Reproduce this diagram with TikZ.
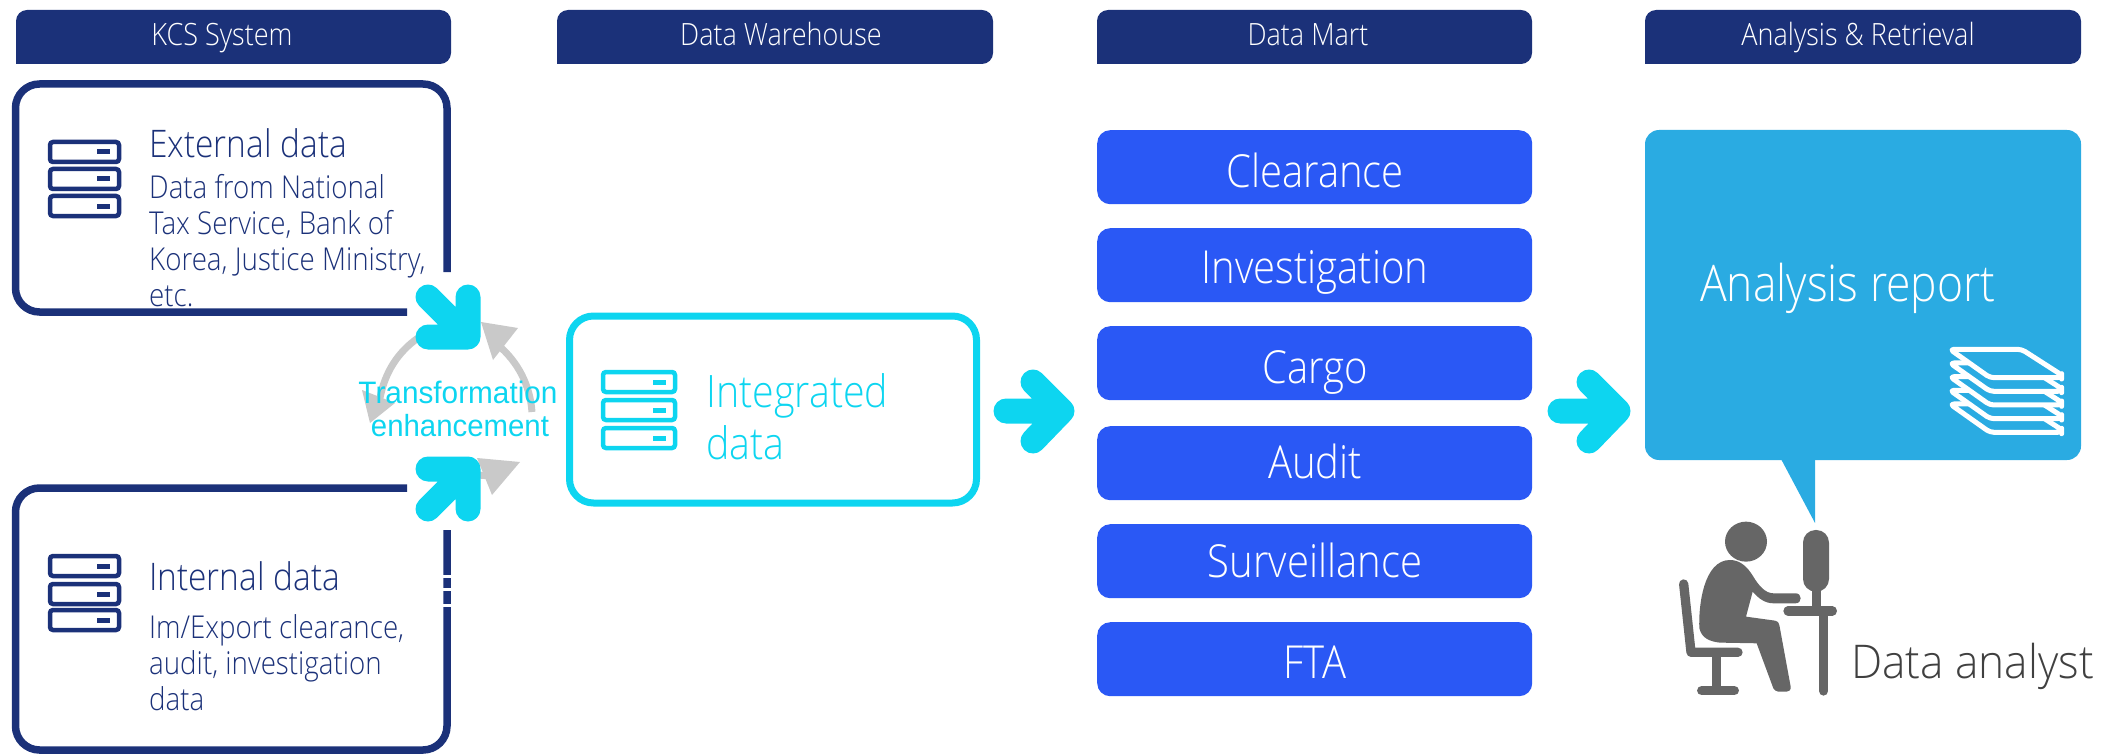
\documentclass[tikz,border=0pt]{standalone}
\usepackage{fontspec}
\setmainfont{Open Sans}[UprightFont=* Light,FakeStretch=0.88]
\newfontfamily\widef{Open Sans}[UprightFont=* Light,FakeStretch=0.95]
\newfontfamily\arialf{Liberation Sans}[FakeStretch=0.96]
\definecolor{navy}{HTML}{1B3179}
\definecolor{martblue}{HTML}{2A58F5}
\definecolor{cyanx}{HTML}{0DD5F0}
\definecolor{reportblue}{HTML}{2AABE2}
\definecolor{grayarc}{HTML}{C9C9C9}
\definecolor{persongray}{HTML}{666666}
\definecolor{darktext}{HTML}{404040}
\newcommand{\fs}[2]{\fontsize{#1}{#2}\selectfont}
\tikzset{
  hdrtext/.style={anchor=base,text=white,inner sep=0,font=\fs{30.7}{34}},
  martbox/.style={fill=martblue,rounded corners=13,minimum width=435,minimum height=74,inner sep=0,anchor=north west},
  marttext/.style={anchor=base,text=white,inner sep=0,font=\fs{45.5}{52}},
  navybox/.style={draw=navy,line width=7.5,rounded corners=24},
  title/.style={anchor=base west,text=navy,inner sep=0,font=\fs{38}{44}},
  bodytext/.style={anchor=north west,text=navy,inner sep=0,align=left,font=\fs{31.5}{36}},
  fatarrow/.style={draw=cyanx,line width=25,line cap=round,line join=round},
  greyarc/.style={draw=grayarc,line width=7},
  greyhead/.style={fill=grayarc},
  srvbox/.style={rounded corners=3,line width=4.5},
  srvdash/.style={line width=5},
  pfill/.style={fill=persongray},
  pline/.style={draw=persongray,line width=9.3},
}
\newcommand{\server}[5]{% colour, x0, x1, y0, y1
  \draw[srvbox,draw=#1] (#2,#4) rectangle (#3,#4+#5);
  \draw[srvdash,draw=#1] (#3-22,#4+#5/2) -- (#3-9,#4+#5/2);
}
\newcommand{\hdr}[6]{% name, x0, x1, text x, text
  \fill[navy] (#2,64) [rounded corners=11] -- (#2,10) -- (#3,10) -- (#3,64) [sharp corners] -- cycle;
  \node[hdrtext] (#1) at (#4,46) {#5};
}
\begin{document}
\begin{tikzpicture}[x=1pt,y=-1pt]
\useasboundingbox (0,0) rectangle (2108,754);
\hdr{h1}{16}{451}{222}{KCS System}{}
\hdr{h2}{557}{993}{781}{Data Warehouse}{}
\hdr{h3}{1097}{1532}{1308}{Data Mart}{}
\hdr{h4}{1645}{2081}{1858}{Analysis \& Retrieval}{}
% KCS boxes (open where the arrows stand)
\draw[navybox] (447,272) -- (447,84) -- (15.5,84) -- (15.5,312) -- (407,312);
\draw[navybox] (407,488) -- (15.5,488) -- (15.5,750) -- (447,750) -- (447,530);
\fill[white] (442,575) rectangle (452,578);
\fill[white] (442,588) rectangle (452,591);
\fill[white] (442,604) rectangle (452,607);
\server{navy}{50}{119}{142}{20}
\server{navy}{50}{119}{169}{20}
\server{navy}{50}{119}{196}{20}
\server{navy}{50}{119}{556}{20}
\server{navy}{50}{119}{584}{20}
\server{navy}{50}{119}{610}{20}
\node[title] (exttitle) at (149,158) {External data};
\node[bodytext] (extbody) at (149,174) {Data from National\\Tax Service, Bank of\\Korea, Justice Ministry,\\etc.};
\node[title] (inttitle) at (149,590) {Internal data};
\node[bodytext] (intbody) at (149,614) {Im/Export clearance,\\audit, investigation\\data};
% grey cycle
\draw[greyarc] (532,412) .. controls (530,385) and (518,362) .. (498,345);
\fill[greyhead] (481,322) -- (518,328) -- (493,360) -- cycle;
\draw[greyarc] (418,338) .. controls (398,352) and (385,372) .. (380,398);
\fill[greyhead] (370,423) -- (362,390) -- (395,403) -- cycle;
\draw[greyarc] (420,470) -- (490,476);
\fill[greyhead] (520,462) -- (477,458) -- (492,495) -- cycle;
% transformation label
\node[anchor=base,inner sep=0,text=cyanx,font=\arialf\fs{31}{36}] (tr1) at (458,403) {Transformation};
\node[anchor=base,inner sep=0,text=cyanx,font=\arialf\fs{30.6}{36}] (tr2) at (460,436) {enhancement};
% fat arrows
\draw[fatarrow] (428,297) -- (468,337) (468,297) -- (468,337) -- (428,337);
\draw[fatarrow] (428,509) -- (468,469) (468,509) -- (468,469) -- (428,469);
\draw[fatarrow] (1006,411) -- (1062,411) (1033,382) -- (1062,411) -- (1033,441);
\draw[fatarrow] (1560,411) -- (1618,411) (1589,382) -- (1618,411) -- (1589,441);
% integrated
\draw[draw=cyanx,line width=7,rounded corners=24] (569.5,316) rectangle (976.5,503);
\server{cyanx}{603}{675}{372}{20}
\server{cyanx}{603}{675}{400}{20}
\server{cyanx}{603}{675}{428}{20}
\node[anchor=north west,inner sep=0,align=left,text=cyanx,font=\fs{44.7}{52}] (integ) at (706,373) {Integrated\\data};
% data mart
\foreach \n/\yy/\t/\b in {clear/130/Clearance/187,inv/228/Investigation/283,cargo/326/Cargo/383,audit/426/Audit/478,surv/524/Surveillance/577.5,fta/622/FTA/678}{
  \node[martbox] (\n) at (1097,\yy) {};
  \node[marttext] (\n t) at (1315,\b) {\t};
}
% report
\fill[reportblue,rounded corners=14] (1645,130) rectangle (2081,460);
\fill[reportblue] (1781,459) -- (1815,459) -- (1815,523) -- cycle;
\node[anchor=base west,inner sep=0,text=white,font=\fs{50.5}{56}] (rep) at (1700,301) {Analysis report};
\begin{scope}[shift={(1660,330)},x=0.3333pt,y=-0.3333pt]
  \foreach \d in {164,123,82,41,0}{
    \filldraw[fill=reportblue,draw=white,line width=5,line join=round,rounded corners=4]
      (870,58+\d) -- (1085,58+\d) -- (1205,135+\d) -- (1205,143+\d) -- (990,143+\d) -- cycle;
  }
  % person
  \fill[pfill] (258,635) ellipse [x radius=63,y radius=60];
  \fill[pfill] (210,690) .. controls (240,690) and (262,710) .. (280,740) .. controls (295,765) and (315,790) .. (340,790)
    -- (407,790) .. controls (427,790) and (427,820) .. (407,820) -- (340,820) .. controls (315,820) and (295,805) .. (278,785)
    -- (258,860) -- (345,872) .. controls (352,873) and (357,878) .. (358,885) -- (392,1070) .. controls (393,1080) and (388,1085) .. (380,1085)
    -- (355,1085) .. controls (348,1085) and (343,1080) .. (340,1075) -- (290,940) -- (180,938) .. controls (150,935) and (125,925) .. (118,895)
    .. controls (115,830) and (130,690) .. (210,690) -- cycle;
  \draw[pline,line cap=round,line join=round] (71,762) -- (93,967) -- (234,967);
  \draw[pline,line cap=butt] (170,967) -- (170,1082);
  \draw[pline,line cap=round] (125,1082) -- (223,1082);
  \fill[pfill,rounded corners=12.6] (429,600) rectangle (507,785);
  \fill[pfill] (455,775) rectangle (483,840);
  \draw[pline,line cap=round] (384,843) -- (517,843);
  \draw[pline,line cap=round] (491,850) -- (491,1083);
\end{scope}
\node[anchor=base west,inner sep=0,text=darktext,font=\widef\fs{46.5}{52}] (analyst) at (1851,678) {Data analyst};
\end{tikzpicture}
\end{document}
